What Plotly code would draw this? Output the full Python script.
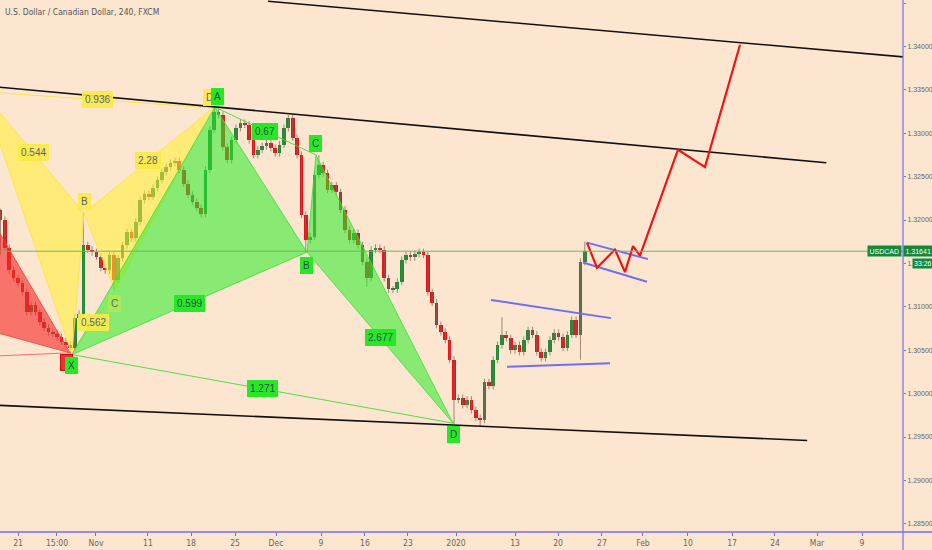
import plotly.graph_objects as go

# ---------------- data ----------------
title_text = "U.S. Dollar / Canadian Dollar, 240, FXCM"
symbol = "USDCAD"
last_price = 1.31641
countdown = "33:26"

# 12h-resolution reading of the candle path (closes), first candle starts at day -2
first_day = -2.0
day_step = 0.5
first_open = 1.3212
closes = [
    1.3200, 1.3168, 1.3142, 1.3133, 1.3127, 1.3117, 1.3094, 1.3102, 1.3094, 1.3083,
    1.3076, 1.3071, 1.3069, 1.3065, 1.3060, 1.3056, 1.3053, 1.3087, 1.3092, 1.3171,
    1.3166, 1.3163, 1.3158, 1.3145, 1.3142, 1.3160, 1.3131, 1.3156, 1.3171, 1.3186,
    1.3179, 1.3198, 1.3223, 1.3230, 1.3227, 1.3237, 1.3246, 1.3255, 1.3261, 1.3266,
    1.3268, 1.3258, 1.3242, 1.3229, 1.3221, 1.3214, 1.3207, 1.3258, 1.3304, 1.3324,
    1.3321, 1.3284, 1.3269, 1.3292, 1.3306, 1.3312, 1.3310, 1.3292, 1.3275, 1.3281,
    1.3285, 1.3289, 1.3283, 1.3277, 1.3287, 1.3306, 1.3318, 1.3295, 1.3275, 1.3206,
    1.3177, 1.3181, 1.3252, 1.3263, 1.3254, 1.3235, 1.3240, 1.3232, 1.3212, 1.3189,
    1.3177, 1.3185, 1.3171, 1.3152, 1.3133, 1.3166, 1.3168, 1.3166, 1.3133, 1.3120,
    1.3120, 1.3129, 1.3154, 1.3160, 1.3157, 1.3161, 1.3163, 1.3160, 1.3117, 1.3105,
    1.3079, 1.3071, 1.3062, 1.3039, 1.2993, 1.2995, 1.2987, 1.2993, 1.2981, 1.2972,
    1.2970, 1.3013, 1.3009, 1.3039, 1.3056, 1.3068, 1.3064, 1.3050, 1.3056, 1.3048,
    1.3062, 1.3073, 1.3068, 1.3048, 1.3041, 1.3048, 1.3062, 1.3070, 1.3065, 1.3053,
    1.3068, 1.3085, 1.3068, 1.3152, 1.31641,
]
# notable wick extremes: index -> (high, low)
wick_extremes = {
    0: (1.3213, 1.3160), 16: (None, 1.3045), 19: (1.3208, None), 26: (None, 1.3120),
    49: (1.3330, None), 66: (1.3321, None), 70: (None, 1.3163), 73: (1.3275, None),
    84: (None, 1.3123), 104: (None, 1.2965), 110: (None, 1.2962), 115: (1.3088, None),
    133: (None, 1.3039), 134: (1.3175, None),
}

# x-axis tick labels (trading-day positions)
tick_days = [0, 4.47, 8.94, 14.9, 19.84, 24.89, 29.59, 34.75, 39.79, 44.72, 50.23,
             57.0, 61.93, 66.97, 71.67, 76.83, 81.88, 86.81, 91.63, 96.79]
tick_labels = ["21", "15:00", "Nov", "11", "18", "25", "Dec", "9", "16", "23", "2020",
               "13", "20", "27", "Feb", "10", "17", "24", "Mar", "9"]
price_ticks = [1.285, 1.290, 1.295, 1.300, 1.305, 1.310, 1.315, 1.320, 1.325,
               1.330, 1.335, 1.340, 1.345]

# drawings (day, price)
trend_top = [(28.67, 1.3452), (101.5, 1.3388)]
trend_mid = [(-3.2, 1.3354), (92.7, 1.3266)]
trend_bottom = [(-3.2, 1.2987), (90.5, 1.2946)]
forecast_path = [(65.25, 1.3174), (66.40, 1.3145), (68.46, 1.3166), (69.61, 1.3140),
                 (70.53, 1.3170), (71.33, 1.3159), (75.69, 1.3281), (78.78, 1.3261),
                 (82.80, 1.3402)]
flag_upper = [(65.25, 1.3174), (72.25, 1.3155)]
flag_lower = [(64.79, 1.3151), (72.13, 1.3129)]
range_upper = [(54.24, 1.3108), (68.00, 1.3087)]
range_lower = [(56.08, 1.3031), (67.89, 1.3035)]

green_pts = {"X": (6.19, 1.3045), "A": (22.59, 1.3330), "B": (33.14, 1.3163),
             "C": (34.17, 1.3275), "D": (49.89, 1.2966)}
green_ratios = {"XB": "0.599", "AC": "0.67", "BD": "2.677", "XD": "1.271"}
yellow_pts = {"X": (-4.13, 1.3348), "A": (6.19, 1.3045), "B": (7.57, 1.3208),
              "C": (11.12, 1.3119), "D": (22.36, 1.3329)}
yellow_ratios = {"XB": "0.544", "AC": "0.562", "BD": "2.28", "XD": "0.936"}
red_triangle = [(-3.44, 1.3208), (5.96, 1.3047), (-3.44, 1.3073)]
red_line = [(-3.44, 1.3043), (5.96, 1.3047)]

# ---------------- style ----------------
BG = "#fde6cf"
AXIS = "#7070ee"
UP = "#1f8a38"
DOWN = "#e3141c"
WICK = "rgba(125,105,85,0.75)"
DEFAULT_WICK = 0.0004
TITLEFONT = "DejaVu Sans Condensed, sans-serif"
TICKFONT = "Liberation Sans, Arial, sans-serif"
X0, X1 = -2.064, 101.49
Y0, Y1 = 1.28406, 1.34535

fig = go.Figure()

# candles
xs, bases, heights, colors = [], [], [], []
wx, wy = [], []
prev = first_open
for i, c in enumerate(closes):
    x = first_day + day_step * i
    o = prev
    hi = max(o, c) + DEFAULT_WICK
    lo = min(o, c) - DEFAULT_WICK
    if i in wick_extremes:
        h_, l_ = wick_extremes[i]
        if h_ is not None:
            hi = h_
        if l_ is not None:
            lo = l_
    xs.append(x)
    bases.append(min(o, c))
    heights.append(max(abs(c - o), 0.00006))
    colors.append(UP if c >= o else DOWN)
    wx += [x, x, None]
    wy += [lo, hi, None]
    prev = c

fig.add_trace(go.Scatter(x=wx, y=wy, mode="lines", line=dict(color=WICK, width=1),
                         hoverinfo="skip", showlegend=False))
fig.add_trace(go.Bar(x=xs, y=heights, base=bases, width=0.42, marker=dict(color=colors, line=dict(width=0)),
                     hoverinfo="skip", showlegend=False))


def poly(points, fill, line_color, width=1):
    px = [p[0] for p in points] + [points[0][0]]
    py = [p[1] for p in points] + [points[0][1]]
    fig.add_trace(go.Scatter(x=px, y=py, mode="lines", fill="toself", fillcolor=fill,
                             line=dict(color=line_color, width=width), hoverinfo="skip",
                             showlegend=False))


def line(points, color, width, dash="solid"):
    fig.add_trace(go.Scatter(x=[p[0] for p in points], y=[p[1] for p in points], mode="lines",
                             line=dict(color=color, width=width, dash=dash), hoverinfo="skip",
                             showlegend=False))


# red pattern
poly(red_triangle, "rgba(245,40,40,0.6)", "rgba(240,60,60,0.8)")
line(red_line, "rgba(240,80,80,0.8)", 1)

# yellow pattern
Y = yellow_pts
poly([Y["X"], Y["A"], Y["B"]], "rgba(255,238,50,0.55)", "rgba(250,230,60,0.8)")
poly([Y["B"], Y["C"], Y["D"]], "rgba(255,238,50,0.55)", "rgba(250,230,60,0.8)")
line([Y["X"], Y["D"]], "rgba(250,230,60,0.9)", 1)
line([Y["A"], Y["C"]], "rgba(250,230,60,0.9)", 1)

# green pattern
G = green_pts
poly([G["X"], G["A"], G["B"]], "rgba(40,235,40,0.55)", "rgba(60,220,60,0.8)")
poly([G["B"], G["C"], G["D"]], "rgba(40,235,40,0.55)", "rgba(60,220,60,0.8)")
line([G["X"], G["D"]], "rgba(60,220,60,0.9)", 1)
line([G["A"], G["C"]], "rgba(60,220,60,0.9)", 1)

# trend lines
for t in (trend_top, trend_mid, trend_bottom):
    line(t, "#111111", 1.6)
for b in (flag_upper, flag_lower, range_upper, range_lower):
    line(b, "#6f6ff2", 2)
line(forecast_path, "#f01414", 2.2)

# current price line
fig.add_shape(type="line", xref="paper", yref="y", x0=0, x1=1, y0=last_price, y1=last_price,
              line=dict(color="#66bb66", width=1))
# axis frame lines
fig.add_shape(type="line", xref="paper", yref="paper", x0=0, x1=932 / 903, y0=0, y1=0,
              line=dict(color=AXIS, width=1.5))
fig.add_shape(type="line", xref="paper", yref="paper", x0=1, x1=1, y0=-18 / 532, y1=1,
              line=dict(color=AXIS, width=1.2))

ann = []


def box(x, y, text, bg, fg, xs_=0, ys_=0, border=None):
    ann.append(dict(x=x, y=y, xref="x", yref="y", text=text, showarrow=False,
                    bgcolor=bg, bordercolor=border or bg, borderwidth=1, borderpad=2,
                    font=dict(family="Liberation Sans, sans-serif", size=10, color=fg),
                    xshift=xs_, yshift=ys_))


def mid(p, q):
    return ((p[0] + q[0]) / 2, (p[1] + q[1]) / 2)


YB, YF = "rgba(250,235,70,0.9)", "#5a5f80"
GB, GF = "#27e827", "#2f4a4a"
# yellow ratio labels
for key, txt in yellow_ratios.items():
    m = mid(Y[key[0]], Y[key[1]])
    box(m[0], m[1], txt, YB, YF)
box(*Y["B"], "B", YB, YF, 0, 12)
box(*Y["C"], "C", "rgba(170,235,80,0.9)", YF, 0, -13)
box(*Y["D"], "D", YB, YF, -3, 11)
# red label (behind green X)
box(5.9, 1.3047, "D", "#f03030", "#f03030", -3, -10, border="#c01010")
# green ratio labels
for key, txt in green_ratios.items():
    m = mid(G[key[0]], G[key[1]])
    box(m[0], m[1], txt, GB, GF)
box(*G["X"], "X", GB, GF, 0, -11)
box(*G["A"], "A", GB, GF, 3, 11)
box(*G["B"], "B", GB, GF, 0, -13)
box(*G["C"], "C", GB, GF, 0, 11)
box(*G["D"], "D", GB, GF, 0, -11)

# title
ann.append(dict(x=0, y=1, xref="paper", yref="paper", xanchor="left", yanchor="top",
                xshift=3, yshift=-5, text=title_text, showarrow=False,
                font=dict(family=TITLEFONT, size=8.5, color="#555555")))
# price labels on the axis
ann.append(dict(x=1, y=last_price, xref="paper", yref="y", xanchor="left", yanchor="middle",
                text=f"{last_price:.5f}", showarrow=False, bgcolor="#15883a", borderpad=1.5,
                font=dict(family=TICKFONT, size=7, color="white"), xshift=0))
ann.append(dict(x=1, y=last_price, xref="paper", yref="y", xanchor="right", yanchor="middle",
                text=symbol, showarrow=False, bgcolor="#15883a", borderpad=1.5,
                font=dict(family=TICKFONT, size=7, color="white"), xshift=-1))
ann.append(dict(x=1, y=last_price, xref="paper", yref="y", xanchor="left", yanchor="middle",
                text=countdown, showarrow=False, bgcolor="#15883a", borderpad=1,
                font=dict(family=TICKFONT, size=7, color="white"), xshift=9, yshift=-12))

fig.update_layout(
    width=932, height=550,
    margin=dict(l=0, r=29, t=0, b=18),
    paper_bgcolor=BG, plot_bgcolor=BG,
    showlegend=False, bargap=0,
    annotations=ann,
    xaxis=dict(range=[X0, X1], showgrid=False, zeroline=False, showline=False,
               tickmode="array", tickvals=tick_days, ticktext=tick_labels,
               ticks="outside", ticklen=3, tickcolor=AXIS,
               tickfont=dict(family=TITLEFONT, size=8.5, color="#666666"), automargin=False,
               fixedrange=True),
    yaxis=dict(range=[Y0, Y1], side="right", showgrid=False, zeroline=False, showline=False,
               tickmode="array", tickvals=price_ticks, ticktext=[f"{v:.5f}" for v in price_ticks],
               ticks="outside", ticklen=2, tickcolor=AXIS,
               tickfont=dict(family=TICKFONT, size=7, color="#666666"), automargin=False,
               fixedrange=True),
)

fig.write_html("out.html", config={"displayModeBar": False},
               post_script="document.body.style.margin='0';document.body.style.background='" + BG + "';")
